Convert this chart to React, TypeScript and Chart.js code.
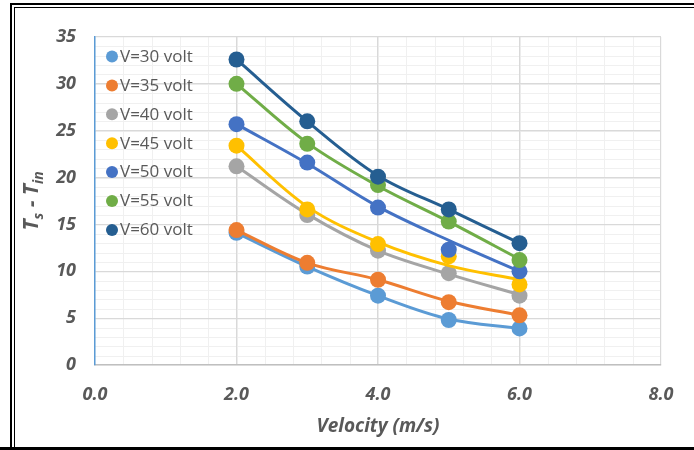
import React, { useEffect, useRef } from "react";
import { Chart, registerables } from "chart.js";

Chart.register(...registerables);

// ---- data ----
const velocity = [2, 3, 4, 5, 6];
const seriesLabels = [
  "V=30 volt",
  "V=35 volt",
  "V=40 volt",
  "V=45 volt",
  "V=50 volt",
  "V=55 volt",
  "V=60 volt",
];
// measured points
const v30 = [14.1, 10.5, 7.4, 4.8, 3.9];
const v35 = [14.4, 10.9, 9.1, 6.7, 5.3];
const v40 = [21.2, 16.0, 12.2, 9.8, 7.4];
const v45 = [23.4, 16.6, 12.9, 11.6, 8.6];
const v50 = [25.7, 21.6, 16.8, 12.3, 10.0];
const v55 = [30.0, 23.6, 19.2, 15.3, 11.2];
const v60 = [32.6, 26.0, 20.1, 16.6, 13.0];
// trend curves
const t30 = [14.1, 10.5, 7.4, 4.9, 3.9];
const t35 = [14.4, 10.9, 9.1, 6.8, 5.3];
const t40 = [21.2, 16.1, 12.2, 9.7, 7.5];
const t45 = [23.4, 16.9, 13.1, 10.6, 9.1];
const t50 = [25.7, 21.5, 16.9, 13.3, 10.0];
const t55 = [30.0, 23.7, 19.1, 15.3, 11.3];
const t60 = [32.6, 26.0, 20.2, 16.6, 13.0];

const pointSeries = [v30, v35, v40, v45, v50, v55, v60];
const trendSeries = [t30, t35, t40, t45, t50, t55, t60];
const colors = ["#5B9BD5", "#ED7D31", "#A5A5A5", "#FFC000", "#4472C4", "#70AD47", "#255E91"];

const xMin = 0;
const xMax = 8;
const xStep = 2;
const xMinorStep = 0.4;
const yMin = 0;
const yMax = 35;
const yStep = 5;
const yMinorStep = 1;
const xTitle = "Velocity (m/s)";

const FONT = "'Open Sans', sans-serif";
const TEXT = "#595959";

const framePlugin = {
  id: "frameAndMinorGrid",
  beforeDraw(chart: any) {
    const { ctx, chartArea, scales } = chart;
    const W = chart.width;
    const H = chart.height;
    ctx.save();
    ctx.fillStyle = "#ffffff";
    ctx.fillRect(0, 0, W, H);
    // double frame (right side lies outside the picture)
    ctx.fillStyle = "#000000";
    ctx.fillRect(10, 3, 2, H - 3); // outer left
    ctx.fillRect(10, 3, W - 10, 2); // outer top
    ctx.fillRect(14, 7, 1, H - 7); // inner left
    ctx.fillRect(14, 7, W - 14, 1); // inner top
    ctx.fillRect(0, H - 3, W, 3); // bottom
    // minor grid
    ctx.strokeStyle = "#F0F0F0";
    ctx.lineWidth = 1;
    const xs = scales.x;
    const ys = scales.y;
    const nx = Math.round((xMax - xMin) / xMinorStep);
    for (let i = 1; i < nx; i++) {
      const px = Math.round(xs.getPixelForValue(xMin + i * xMinorStep)) + 0.5;
      ctx.beginPath();
      ctx.moveTo(px, chartArea.top);
      ctx.lineTo(px, chartArea.bottom);
      ctx.stroke();
    }
    const ny = Math.round((yMax - yMin) / yMinorStep);
    for (let i = 1; i < ny; i++) {
      const py = Math.round(ys.getPixelForValue(yMin + i * yMinorStep)) + 0.5;
      ctx.beginPath();
      ctx.moveTo(chartArea.left, py);
      ctx.lineTo(chartArea.right, py);
      ctx.stroke();
    }
    ctx.restore();
  },
  afterDraw(chart: any) {
    const { ctx, chartArea } = chart;
    ctx.save();
    // legend inside plot
    ctx.font = `17px ${FONT}`;
    ctx.textBaseline = "middle";
    ctx.textAlign = "left";
    seriesLabels.forEach((lab, i) => {
      const y = chartArea.top + 19.5 + i * 28.9;
      ctx.fillStyle = colors[i];
      ctx.beginPath();
      ctx.arc(chartArea.left + 17, y, 6, 0, Math.PI * 2);
      ctx.fill();
      ctx.fillStyle = TEXT;
      ctx.fillText(lab, chartArea.left + 25, y + 0.5);
    });
    // x title
    ctx.font = `italic bold 19px ${FONT}`;
    ctx.textAlign = "center";
    ctx.fillStyle = TEXT;
    ctx.fillText(xTitle, (chartArea.left + chartArea.right) / 2, 427);
    // y title with subscripts
    const big = `italic bold 21px ${FONT}`;
    const small = `italic bold 14px ${FONT}`;
    const parts: [string, string, number][] = [
      ["T", big, 0],
      ["s", small, 5],
      [" - ", big, 0],
      ["T", big, 0],
      ["in", small, 5],
    ];
    let total = 0;
    const widths = parts.map(([t, f]) => {
      ctx.font = f;
      const w = ctx.measureText(t).width;
      total += w;
      return w;
    });
    ctx.translate(38, (chartArea.top + chartArea.bottom) / 2);
    ctx.rotate(-Math.PI / 2);
    ctx.textAlign = "left";
    ctx.textBaseline = "alphabetic";
    let x = -total / 2;
    parts.forEach(([t, f, dy], i) => {
      ctx.font = f;
      ctx.fillText(t, x, dy);
      x += widths[i];
    });
    ctx.restore();
  },
};

export default function App() {
  const ref = useRef<HTMLCanvasElement | null>(null);
  useEffect(() => {
    if (!ref.current) return;
    const datasets: any[] = [];
    seriesLabels.forEach((lab, i) => {
      datasets.push({
        label: lab + " trend",
        data: velocity.map((v, k) => ({ x: v, y: trendSeries[i][k] })),
        showLine: true,
        borderColor: colors[i],
        backgroundColor: colors[i],
        borderWidth: 3,
        pointRadius: 0,
        tension: 0.35,
        order: 100 - 2 * i,
      });
      datasets.push({
        label: lab,
        data: velocity.map((v, k) => ({ x: v, y: pointSeries[i][k] })),
        showLine: false,
        borderColor: colors[i],
        backgroundColor: colors[i],
        pointRadius: 8,
        pointBorderWidth: 0,
        order: 99 - 2 * i,
      });
    });
    const tickFont = { family: FONT, size: 18, weight: "bold", style: "italic" } as any;
    const chart = new Chart(ref.current, {
      type: "scatter",
      data: { datasets },
      plugins: [framePlugin],
      options: {
        responsive: false,
        animation: false,
        layout: { padding: { left: 20, top: 37, right: 33, bottom: 0 } },
        plugins: { legend: { display: false }, tooltip: { enabled: false } },
        scales: {
          x: {
            type: "linear",
            min: xMin,
            max: xMax,
            afterFit: (s: any) => {
              s.height = 85;
            },
            ticks: {
              stepSize: xStep,
              font: tickFont,
              color: TEXT,
              padding: 19,
              callback: (v: any) => Number(v).toFixed(1),
            },
            grid: { color: "#D9D9D9", drawTicks: false, lineWidth: 1.2 },
            border: { color: "#BFBFBF", width: 1.5 },
          },
          y: {
            type: "linear",
            min: yMin,
            max: yMax,
            afterFit: (s: any) => {
              s.width = 75;
            },
            ticks: {
              stepSize: yStep,
              font: tickFont,
              color: TEXT,
              padding: 19,
            },
            grid: { color: "#D9D9D9", drawTicks: false, lineWidth: 1.2 },
            border: { color: "#5B9BD5", width: 1.5 },
          },
        },
      } as any,
    });
    return () => chart.destroy();
  }, []);
  return (
    <div style={{ position: "absolute", left: 0, top: 0, width: 694, height: 450 }}>
      <canvas ref={ref} width={694} height={450} style={{ display: "block" }} />
    </div>
  );
}
